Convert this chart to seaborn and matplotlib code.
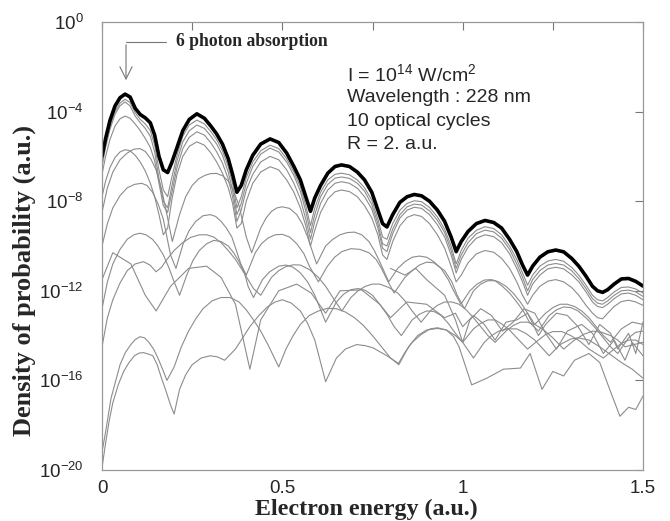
import numpy as np
import pandas as pd
import matplotlib
matplotlib.use("Agg")
import matplotlib.pyplot as plt
import seaborn as sns
from matplotlib.lines import Line2D

# ---------------- data (x: electron energy in a.u., y: log10 of density) ----------------
# common energy grid of the total spectrum and the strongest partial waves
bundle_x = [0, 0.01, 0.022, 0.036, 0.05, 0.064, 0.078, 0.092, 0.106, 0.12,
            0.134, 0.146, 0.158, 0.17, 0.182, 0.194, 0.208, 0.224, 0.242, 0.263,
            0.284, 0.302, 0.318, 0.334, 0.35, 0.362, 0.374, 0.386, 0.4, 0.418,
            0.44, 0.466, 0.49, 0.512, 0.532, 0.55, 0.565, 0.578, 0.59, 0.606,
            0.626, 0.646, 0.664, 0.686, 0.708, 0.728, 0.748, 0.765, 0.778, 0.79,
            0.806, 0.826, 0.846, 0.866, 0.886, 0.908, 0.93, 0.95, 0.968, 0.982,
            0.996, 1.015, 1.038, 1.062, 1.086, 1.108, 1.13, 1.15, 1.166, 1.18,
            1.194, 1.214, 1.236, 1.258, 1.28, 1.302, 1.322, 1.342, 1.36, 1.374,
            1.388, 1.402, 1.42, 1.44, 1.46, 1.48, 1.5]
total_log = [-6.0, -5.2, -4.4, -3.75, -3.38, -3.22, -3.35, -3.85, -4.13, -4.28,
             -4.5, -5.05, -6.0, -6.6, -6.72, -6.25, -5.6, -4.85, -4.35, -4.1,
             -4.3, -4.65, -5.0, -5.45, -6.1, -6.8, -7.6, -7.3, -6.6, -5.95,
             -5.45, -5.22, -5.38, -5.85, -6.45, -7.05, -7.8, -8.45, -7.85, -7.3,
             -6.75, -6.45, -6.38, -6.45, -6.7, -7.05, -7.6, -8.4, -9.0, -9.15,
             -8.6, -8.05, -7.8, -7.7, -7.76, -8.0, -8.4, -8.9, -9.6, -10.25,
             -9.8, -9.35, -9.0, -8.86, -8.95, -9.2, -9.7, -10.25, -10.85, -11.3,
             -10.9, -10.5, -10.26, -10.18, -10.26, -10.55, -10.9, -11.35, -11.8, -12.0,
             -12.07, -11.95, -11.7, -11.47, -11.45, -11.58, -11.79]
wave_a_log = [-6.2, -5.4, -4.65, -4.0, -3.62, -3.45, -3.6, -4.05, -4.35, -4.55,
              -4.85, -5.5, -6.6, -7.5, -7.8, -6.9, -5.95, -5.1, -4.6, -4.38,
              -4.55, -4.9, -5.25, -5.75, -6.45, -7.2, -8.3, -7.8, -6.95, -6.25,
              -5.75, -5.5, -5.65, -6.1, -6.7, -7.35, -8.2, -9.1, -8.3, -7.6,
              -7.05, -6.8, -6.75, -6.82, -7.05, -7.4, -7.95, -8.8, -9.6, -9.7,
              -9.0, -8.4, -8.1, -7.98, -8.02, -8.28, -8.7, -9.25, -10.0, -10.8,
              -10.2, -9.65, -9.3, -9.14, -9.22, -9.5, -10.0, -10.6, -11.2, -11.75,
              -11.3, -10.9, -10.67, -10.6, -10.68, -10.95, -11.3, -11.75, -12.2, -12.4,
              -12.45, -12.3, -12.05, -11.85, -11.83, -11.92, -12.1]
wave_b_log = [-6.45, -5.6, -4.8, -4.12, -3.74, -3.57, -3.75, -4.2, -4.5, -4.75,
              -5.1, -5.8, -7.0, -8.0, -8.3, -7.3, -6.2, -5.35, -4.85, -4.6,
              -4.75, -5.1, -5.45, -5.95, -6.7, -7.5, -8.6, -8.1, -7.2, -6.45,
              -5.9, -5.63, -5.8, -6.25, -6.85, -7.55, -8.45, -9.4, -8.6, -7.8,
              -7.25, -6.97, -6.92, -6.98, -7.2, -7.55, -8.15, -9.0, -9.9, -10.0,
              -9.25, -8.6, -8.25, -8.13, -8.17, -8.43, -8.85, -9.4, -10.2, -11.0,
              -10.4, -9.85, -9.45, -9.29, -9.37, -9.65, -10.15, -10.8, -11.4, -12.0,
              -11.5, -11.1, -10.85, -10.78, -10.85, -11.1, -11.45, -11.9, -12.35, -12.55,
              -12.6, -12.45, -12.2, -12.0, -11.97, -12.05, -12.25]
wave_c_log = [-6.8, -6.0, -5.25, -4.65, -4.32, -4.2, -4.3, -4.55, -4.85, -5.2,
              -5.6, -6.2, -7.2, -8.2, -8.5, -7.6, -6.5, -5.65, -5.15, -4.9,
              -5.05, -5.4, -5.8, -6.3, -7.0, -7.8, -8.9, -8.4, -7.5, -6.8,
              -6.25, -6.0, -6.15, -6.6, -7.2, -7.9, -8.8, -9.7, -8.9, -8.1,
              -7.5, -7.2, -7.13, -7.2, -7.42, -7.8, -8.35, -9.2, -10.1, -10.25,
              -9.45, -8.75, -8.4, -8.27, -8.32, -8.6, -9.05, -9.6, -10.4, -11.2,
              -10.6, -10.05, -9.65, -9.5, -9.58, -9.85, -10.35, -11.0, -11.6, -12.2,
              -11.7, -11.3, -11.02, -10.95, -11.02, -11.28, -11.6, -12.05, -12.5, -12.7,
              -12.75, -12.6, -12.35, -12.14, -12.1, -12.2, -12.4]
wave_d_log = [-7.8, -7.1, -6.5, -6.05, -5.8, -5.7, -5.75, -5.95, -6.25, -6.65,
              -7.2, -7.8, -8.6, -9.5, -9.2, -7.9, -6.8, -6.0, -5.55, -5.35,
              -5.5, -5.85, -6.25, -6.75, -7.4, -8.1, -9.2, -9.0, -8.0, -7.2,
              -6.7, -6.46, -6.6, -7.05, -7.6, -8.3, -9.1, -10.0, -9.3, -8.5,
              -7.9, -7.58, -7.5, -7.57, -7.8, -8.2, -8.75, -9.5, -10.4, -10.6,
              -9.8, -9.1, -8.72, -8.6, -8.68, -9.0, -9.5, -10.1, -10.9, -11.6,
              -11.3, -10.75, -10.35, -10.2, -10.28, -10.55, -11.0, -11.6, -12.2, -12.6,
              -12.2, -11.8, -11.57, -11.5, -11.6, -11.85, -12.2, -12.65, -13.0, -13.2,
              -13.25, -13.0, -12.7, -12.48, -12.42, -12.5, -12.65]

# weaker partial waves, each as (energy, log10 density) pairs
wave_e = [(0, -8.5), (0.015, -7.4), (0.03, -6.7), (0.05, -6.15), (0.07, -5.85), (0.088, -5.68), (0.105, -5.65),
          (0.12, -5.78), (0.135, -6.1), (0.15, -6.6), (0.165, -7.45), (0.18, -8.6), (0.195, -9.8), (0.215, -8.6),
          (0.232, -7.8), (0.25, -7.3), (0.268, -7.0), (0.285, -6.85), (0.3, -6.77), (0.318, -6.76), (0.335, -6.87),
          (0.35, -7.1), (0.365, -7.55), (0.38, -8.2), (0.4, -9.6), (0.415, -10.3), (0.44, -9.2), (0.455, -8.75),
          (0.47, -8.45), (0.485, -8.3), (0.5, -8.25), (0.52, -8.32), (0.54, -8.6), (0.555, -9.0), (0.57, -9.6),
          (0.595, -10.8), (0.62, -10.0), (0.64, -9.7), (0.66, -9.5), (0.68, -9.4), (0.7, -9.38), (0.72, -9.5),
          (0.74, -9.8), (0.755, -10.2), (0.77, -10.7), (0.795, -11.6), (0.82, -11.0), (0.84, -10.7), (0.86, -10.5),
          (0.88, -10.45), (0.9, -10.5), (0.92, -10.7), (0.94, -11.0), (0.96, -11.5), (0.975, -12.0), (0.995, -12.6),
          (1.02, -12.0), (1.04, -11.7), (1.06, -11.52), (1.08, -11.5), (1.1, -11.6), (1.12, -11.8), (1.14, -12.1),
          (1.16, -12.5), (1.18, -13.0), (1.2, -13.5), (1.23, -13.0), (1.25, -12.75), (1.27, -12.6), (1.29, -12.6),
          (1.31, -12.7), (1.33, -12.9), (1.35, -13.2), (1.37, -13.6), (1.39, -14.0), (1.41, -14.3), (1.44, -13.7),
          (1.47, -13.4), (1.5, -13.5)]
wave_f = [(0, -10.0), (0.015, -9.0), (0.03, -8.3), (0.05, -7.75), (0.07, -7.4), (0.09, -7.25), (0.11, -7.2),
          (0.125, -7.3), (0.14, -7.6), (0.155, -8.1), (0.17, -8.8), (0.19, -10.4), (0.205, -11.0), (0.225, -9.9),
          (0.242, -9.3), (0.26, -8.9), (0.28, -8.65), (0.3, -8.6), (0.315, -8.68), (0.33, -8.9), (0.345, -9.2),
          (0.36, -9.6), (0.385, -10.8), (0.4, -11.3), (0.425, -10.3), (0.442, -9.9), (0.46, -9.65), (0.48, -9.5),
          (0.5, -9.48), (0.52, -9.6), (0.54, -9.9), (0.56, -10.35), (0.575, -10.9), (0.6, -11.6), (0.625, -10.9),
          (0.645, -10.5), (0.665, -10.25), (0.69, -10.12), (0.715, -10.15), (0.74, -10.3), (0.76, -10.6),
          (0.775, -11.0), (0.79, -11.5), (0.81, -12.1), (0.84, -11.4), (0.86, -11.1), (0.88, -10.85), (0.9, -10.72),
          (0.92, -10.75), (0.95, -11.1), (0.97, -11.6), (0.985, -12.2), (1.005, -12.8), (1.03, -12.0), (1.05, -11.7),
          (1.07, -11.55), (1.09, -11.55), (1.11, -11.8), (1.13, -12.1), (1.15, -12.5), (1.17, -12.95), (1.185, -13.4),
          (1.21, -13.8), (1.24, -13.1), (1.26, -12.85), (1.28, -12.72), (1.3, -12.75), (1.32, -12.9), (1.345, -13.25),
          (1.37, -13.7), (1.41, -14.5), (1.43, -14.8), (1.46, -14.1), (1.48, -13.85), (1.5, -13.8)]
wave_g = [(0, -12.8), (0.015, -11.6), (0.03, -10.8), (0.05, -10.15), (0.07, -9.7), (0.088, -9.5), (0.105, -9.43),
          (0.122, -9.5), (0.14, -9.7), (0.155, -10.0), (0.17, -10.4), (0.185, -10.95), (0.2, -11.6), (0.215, -12.2),
          (0.235, -11.3), (0.252, -10.65), (0.27, -10.2), (0.29, -9.9), (0.31, -9.75), (0.33, -9.8), (0.35, -10.0),
          (0.365, -10.3), (0.38, -10.7), (0.395, -11.2), (0.405, -11.8), (0.42, -12.3), (0.445, -11.5), (0.465, -11.15),
          (0.49, -10.9), (0.51, -10.85), (0.53, -10.95), (0.55, -11.2), (0.57, -11.6), (0.59, -12.2), (0.605, -12.8),
          (0.62, -13.4), (0.65, -12.5), (0.67, -12.15), (0.69, -11.95), (0.71, -11.9), (0.73, -11.98), (0.75, -12.2),
          (0.77, -12.6), (0.79, -13.05), (0.81, -13.6), (0.83, -14.0), (0.86, -13.3), (0.88, -13.05), (0.9, -12.9),
          (0.92, -12.92), (0.94, -13.1), (0.96, -13.45), (0.98, -13.9), (1.0, -14.3), (1.03, -13.7), (1.05, -13.45),
          (1.07, -13.3), (1.09, -13.3), (1.11, -13.5), (1.13, -13.75), (1.15, -14.1), (1.18, -14.6), (1.21, -14.2),
          (1.23, -13.95), (1.25, -13.82), (1.275, -13.82), (1.3, -14.0), (1.325, -14.25), (1.35, -14.6), (1.39, -15.0),
          (1.42, -14.6), (1.44, -14.35), (1.46, -14.2), (1.48, -14.2), (1.5, -14.4)]
wave_h = [(0, -14.5), (0.015, -13.2), (0.03, -12.4), (0.05, -11.65), (0.07, -11.1), (0.092, -10.8), (0.115, -10.7),
          (0.133, -10.85), (0.15, -11.15), (0.165, -10.95), (0.18, -10.6), (0.2, -10.2), (0.22, -9.9), (0.245, -9.62),
          (0.27, -9.5), (0.29, -9.5), (0.31, -9.6), (0.33, -9.85), (0.35, -10.2), (0.37, -10.6), (0.39, -11.1),
          (0.42, -11.9), (0.44, -12.2), (0.47, -11.4), (0.49, -11.1), (0.51, -10.92), (0.53, -10.84), (0.55, -10.85),
          (0.575, -11.05), (0.6, -11.4), (0.62, -11.8), (0.64, -12.3), (0.665, -12.9), (0.69, -12.3), (0.71, -12.0),
          (0.73, -11.8), (0.75, -11.7), (0.77, -11.7), (0.795, -11.85), (0.82, -12.1), (0.84, -12.45), (0.86, -12.9),
          (0.885, -13.4), (0.91, -12.9), (0.93, -12.65), (0.95, -12.5), (0.97, -12.5), (0.99, -12.6), (1.01, -12.85),
          (1.03, -13.2), (1.05, -13.6), (1.07, -14.0), (1.09, -14.3), (1.12, -13.8), (1.14, -13.55), (1.16, -13.4),
          (1.18, -13.4), (1.2, -13.5), (1.225, -13.75), (1.25, -14.1), (1.28, -14.6), (1.31, -14.2), (1.335, -13.95),
          (1.36, -13.8), (1.385, -13.85), (1.41, -14.0), (1.43, -14.2), (1.45, -14.5), (1.5, -14.3)]
wave_i = [(0, -19.2), (0.01, -18.3), (0.025, -16.8), (0.05, -15.3), (0.065, -14.75), (0.08, -14.4), (0.092, -14.18),
          (0.105, -14.05), (0.118, -14.1), (0.13, -14.3), (0.143, -14.6), (0.155, -15.0), (0.168, -15.5), (0.18, -16.0),
          (0.2, -15.4), (0.22, -14.5), (0.24, -13.8), (0.26, -13.25), (0.28, -12.8), (0.305, -12.45), (0.33, -12.3),
          (0.355, -12.3), (0.38, -12.5), (0.4, -12.85), (0.42, -13.3), (0.44, -13.8), (0.46, -14.4), (0.49, -15.4),
          (0.51, -14.6), (0.53, -14.0), (0.55, -13.5), (0.575, -13.1), (0.6, -12.9), (0.625, -12.78), (0.65, -12.8),
          (0.675, -12.95), (0.7, -13.2), (0.725, -13.55), (0.75, -14.0), (0.775, -14.5), (0.8, -15.0), (0.823, -15.3),
          (0.85, -14.5), (0.875, -14.0), (0.9, -13.75), (0.93, -13.68), (0.955, -13.75), (0.98, -14.0), (1.0, -14.3),
          (1.03, -15.0), (1.06, -14.3), (1.08, -14.0), (1.1, -13.8), (1.125, -13.7), (1.15, -13.7), (1.175, -13.9),
          (1.2, -14.2), (1.24, -14.9), (1.27, -14.4), (1.3, -14.15), (1.32, -14.1), (1.35, -14.2), (1.38, -14.5),
          (1.41, -14.85), (1.44, -15.2), (1.47, -15.5), (1.5, -15.9)]
wave_j = [(0, -19.9), (0.01, -18.8), (0.02, -17.8), (0.03, -17.0), (0.045, -16.2), (0.06, -15.6), (0.075, -15.2),
          (0.09, -14.9), (0.103, -14.78), (0.115, -14.76), (0.128, -14.82), (0.141, -14.9), (0.153, -15.3),
          (0.165, -15.9), (0.178, -16.5), (0.19, -17.1), (0.2, -17.5), (0.215, -16.4), (0.232, -15.75), (0.25, -15.3),
          (0.275, -15.0), (0.3, -14.9), (0.32, -14.95), (0.34, -15.1), (0.37, -14.6), (0.39, -14.1), (0.41, -13.6),
          (0.435, -13.1), (0.46, -12.7), (0.48, -12.5), (0.5, -12.4), (0.525, -12.55), (0.55, -12.9), (0.57, -13.45),
          (0.59, -14.2), (0.62, -16.06), (0.65, -15.0), (0.675, -14.6), (0.706, -14.4), (0.73, -14.45), (0.752, -14.55),
          (0.79, -14.9), (0.822, -15.24), (0.84, -14.75), (0.86, -14.3), (0.885, -13.95), (0.91, -13.7), (0.93, -13.65),
          (0.955, -13.75), (0.975, -14.05), (0.99, -14.5), (1.025, -16.2), (1.067, -15.9), (1.113, -15.5),
          (1.16, -15.45), (1.187, -14.8), (1.22, -16.4), (1.25, -15.6), (1.28, -15.8), (1.31, -15.1), (1.35, -14.8),
          (1.38, -15.2), (1.41, -16.5), (1.436, -17.6), (1.46, -17.2), (1.48, -17.3), (1.5, -16.7)]
wave_k = [(0.0, -11.5), (0.03, -10.3), (0.08, -10.8), (0.12, -12.2), (0.15, -12.9), (0.19, -11.8), (0.24, -11.0),
          (0.29, -10.9), (0.33, -11.4), (0.37, -12.6), (0.41, -15.5), (0.44, -13.3), (0.49, -12.0), (0.54, -11.7),
          (0.58, -12.1), (0.62, -13.0), (0.66, -12.0), (0.72, -11.96), (0.77, -12.6), (0.8, -13.2), (0.845, -12.5),
          (0.9, -12.6), (0.95, -13.2), (0.98, -13.0), (1.0, -13.6), (1.03, -13.1), (1.06, -13.5), (1.09, -14.2),
          (1.12, -13.4), (1.15, -13.3), (1.18, -13.0), (1.21, -14.0), (1.23, -13.5), (1.26, -13.0), (1.29, -13.1),
          (1.32, -13.6), (1.35, -14.4), (1.38, -13.5), (1.41, -13.9), (1.43, -14.6), (1.46, -13.9), (1.48, -14.8),
          (1.5, -13.4)]
wave_l = [(0.8, -11.0), (0.84, -11.3), (0.87, -11.0), (0.9, -11.5), (0.95, -12.2), (0.98, -13.3), (1.0, -14.3),
          (1.02, -13.3), (1.05, -12.8), (1.08, -13.1), (1.11, -13.8), (1.14, -13.4), (1.17, -12.8), (1.2, -13.0),
          (1.23, -13.9), (1.26, -14.6), (1.29, -13.8), (1.33, -13.5), (1.36, -13.9), (1.39, -14.8), (1.42, -14.2),
          (1.45, -15.1), (1.47, -14.3), (1.5, -14.9)]

grid_waves = [wave_a_log, wave_b_log, wave_c_log, wave_d_log]
pair_waves = [wave_e, wave_f, wave_g, wave_h, wave_i, wave_j, wave_k, wave_l]

y_tick_exponents = [0, -4, -8, -12, -16, -20]
x_tick_values = [0, 0.5, 1, 1.5]
x_tick_labels = ["0", "0.5", "1", "1.5"]

info_lines = ["I = 10$^{14}$ W/cm$^{2}$", "Wavelength : 228 nm", "10 optical cycles", "R = 2. a.u."]
annotation_text = "6 photon absorption"

# ---------------- figure ----------------
sns.set_style("white")
plt.rcParams["font.family"] = ["Liberation Sans", "DejaVu Sans"]
plt.rcParams["mathtext.fontset"] = "custom"
plt.rcParams["mathtext.rm"] = "Liberation Sans"
plt.rcParams["mathtext.it"] = "Liberation Sans:italic"

W, H = 670, 521
fig = plt.figure(figsize=(W / 100, H / 100), dpi=100)
ax = fig.add_axes([102 / W, 1 - 470 / H, (643 - 102) / W, (470 - 22) / H])

gray = "#8c8c8c"
curves = [pd.DataFrame({"energy": bundle_x, "logdens": w}) for w in grid_waves]
curves += [pd.DataFrame(w, columns=["energy", "logdens"]) for w in pair_waves]
for df in curves:
    df["dens"] = 10.0 ** df["logdens"]
    sns.lineplot(data=df, x="energy", y="dens", ax=ax, color=gray, lw=0.8, sort=False, estimator=None)

tot = pd.DataFrame({"energy": bundle_x, "dens": 10.0 ** np.array(total_log)})
sns.lineplot(data=tot, x="energy", y="dens", ax=ax, color="black", lw=2.6, sort=False, estimator=None)

ax.set_yscale("log")
ax.set_xlim(0, 1.5)
ax.set_ylim(1e-20, 1)
ax.set_yticks([10.0 ** e for e in y_tick_exponents])
ax.set_yticklabels([f"$10^{{{e}}}$" for e in y_tick_exponents])
ax.yaxis.set_minor_locator(matplotlib.ticker.NullLocator())
ax.set_xticks(x_tick_values)
ax.set_xticklabels(x_tick_labels)
ax.set_xticks([0.25, 0.75, 1.25], minor=True)
ax.tick_params(axis="both", which="both", direction="in", length=6, width=0.8, color="#777777",
               top=True, right=True, labelsize=13.5)
ax.tick_params(axis="x", pad=7)
ax.tick_params(axis="y", pad=13)
for s in ax.spines.values():
    s.set_color("#999999")
    s.set_linewidth(0.9)

ax.set_xlabel("Electron energy (a.u.)", family="Liberation Serif", fontweight="bold", fontsize=17.3)
ax.xaxis.set_label_coords(0.488, -0.064)
ax.set_ylabel("Density of probability (a.u.)", family="Liberation Serif", fontweight="bold", fontsize=19)
ax.yaxis.set_label_coords(-0.122, 0.424)

# info text block
for i, t in enumerate(info_lines):
    fig.text(347 / W, 1 - (74 + i * 23.5) / H, t, fontsize=14, ha="left", va="center")

# annotation: bracket line with open arrow
fig.add_artist(Line2D([126 / W, 166 / W], [1 - 42 / H, 1 - 42 / H], color="#777777", lw=0.8))
ax.annotate("", xy=(126, H - 83), xycoords="figure pixels", xytext=(126, H - 42), textcoords="figure pixels",
            arrowprops=dict(arrowstyle="->", color="#777777", lw=0.8, mutation_scale=22))
fig.text(176 / W, 1 - 42 / H, annotation_text, family="Liberation Serif", fontweight="bold", fontsize=12.7,
         ha="left", va="center")

fig.savefig("out.png", dpi=100)
